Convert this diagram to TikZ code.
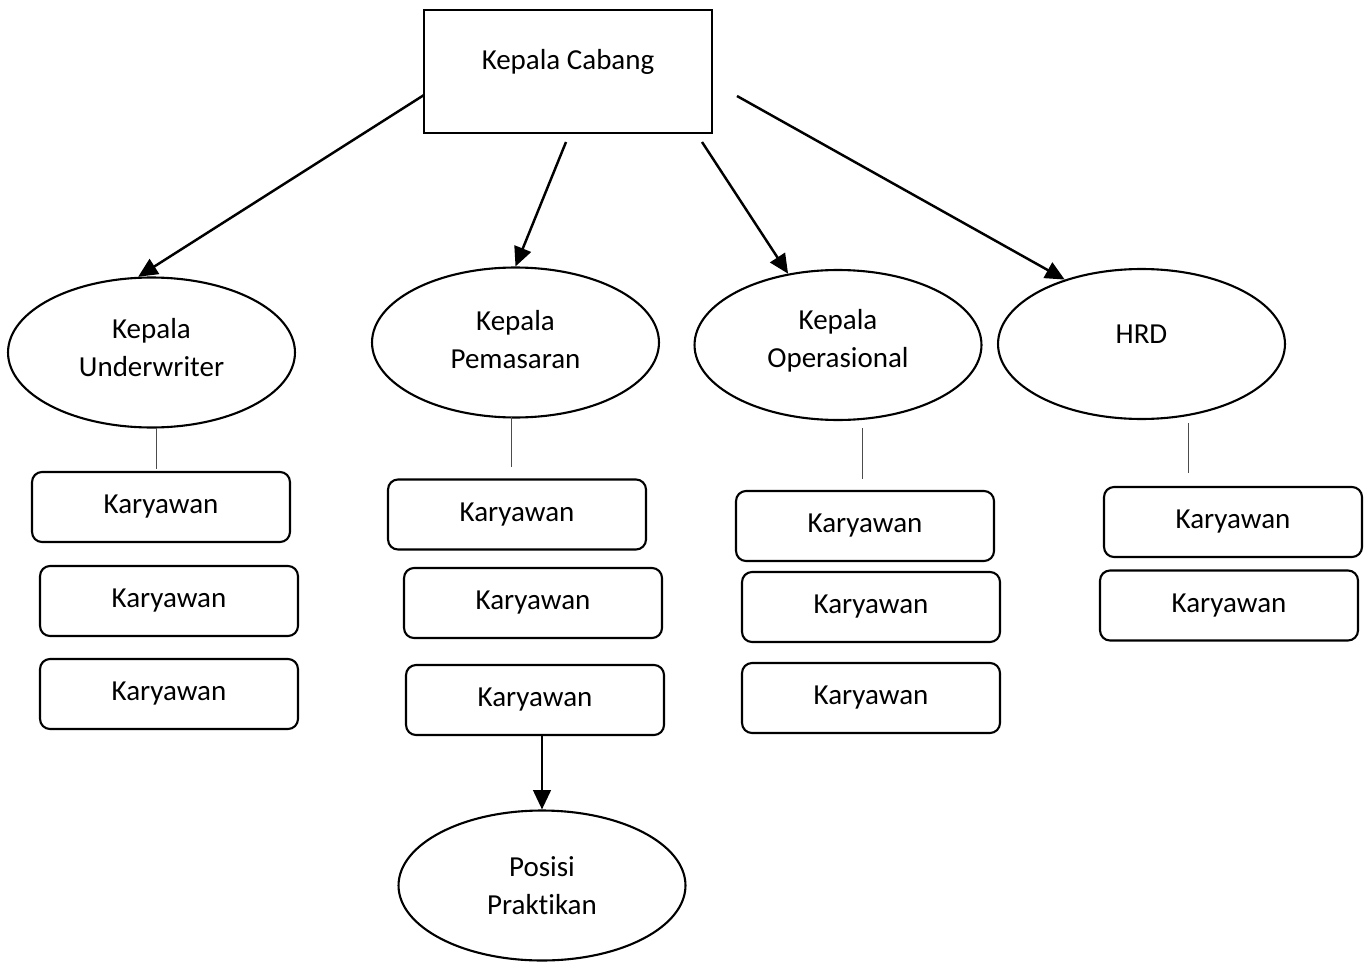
\documentclass[tikz,border=0pt]{standalone}
\usepackage{fontspec}
\setmainfont{Carlito}[Ligatures=NoCommon]
\usetikzlibrary{positioning, calc, shapes.geometric, arrows.meta}
\tikzstyle{Arrow} = [line width=1.4pt, -{Triangle[length=11pt, width=10pt]}]
\tikzstyle{Tick} = [line width=0.5pt, black!70]
\tikzstyle{Head} = [draw, line width=1.2pt, minimum width=5.76cm, minimum height=2.46cm, inner sep=0pt]
\tikzstyle{Kepala} = [draw, ellipse, line width=1.2pt, minimum width=5.74cm, minimum height=3.0cm, inner sep=0pt, align=center]
\tikzstyle{Staf} = [draw, rounded corners=0.2cm, line width=1.2pt, minimum width=5.16cm, minimum height=1.4cm, inner sep=0pt]

\begin{document}
\begin{tikzpicture}[x=0.02cm, y=-0.02cm, font=\fontsize{16.5}{21.5}\selectfont]
    \useasboundingbox (0,0) rectangle (1372,963);

    \node [Head, text depth=14pt] (kc) at (568,71.5) {Kepala Cabang};
    \node [Kepala, text depth=5.6pt] (uw) at (151.5,352.5) {Kepala\\Underwriter};
    \node [Kepala, text depth=3.4pt] (pm) at (515.5,342.5) {Kepala\\Pemasaran};
    \node [Kepala, text depth=7.4pt] (op) at (838,345) {Kepala\\Operasional};
    \node [Kepala, text depth=11.4pt] (hrd) at (1141.5,344) {HRD};

    \node [Staf] (u1) at (161,507) {Karyawan};
    \node [Staf] (u2) at (169,601) {Karyawan};
    \node [Staf] (u3) at (169,694) {Karyawan};
    \node [Staf] (p1) at (517,514.5) {Karyawan};
    \node [Staf] (p2) at (533,603) {Karyawan};
    \node [Staf] (p3) at (535,700) {Karyawan};
    \node [Staf] (o1) at (865,526) {Karyawan};
    \node [Staf] (o2) at (871,607) {Karyawan};
    \node [Staf] (o3) at (871,698) {Karyawan};
    \node [Staf] (h1) at (1233,522) {Karyawan};
    \node [Staf] (h2) at (1229,605.5) {Karyawan};

    \node [Kepala] (pk) at (542,885.5) {Posisi\\Praktikan};

    % titik awal panah dari kepala cabang
    \coordinate (a1) at (424,95);
    \coordinate (a2) at (566,142);
    \coordinate (a3) at (702,142);
    \coordinate (a4) at (737,96);

    \draw[Arrow] (a1) -- (uw.100);
    \draw[Arrow] (a2) -- (pm.north);
    \draw[Arrow] (a3) -- (op.125);
    \draw[Arrow] (a4) -- (hrd.140);
    \draw[Arrow] (pk.north |- p3.south) -- (pk.north);

    % garis tipis ke karyawan
    \coordinate (t1) at (156,428);  \coordinate (b1) at (156,469);
    \coordinate (t2) at (511,417);  \coordinate (b2) at (511,467);
    \coordinate (t3) at (862,428);  \coordinate (b3) at (862,479);
    \coordinate (t4) at (1188,423); \coordinate (b4) at (1188,473);
    \draw[Tick] (t1) -- (b1);
    \draw[Tick] (t2) -- (b2);
    \draw[Tick] (t3) -- (b3);
    \draw[Tick] (t4) -- (b4);
\end{tikzpicture}
\end{document}
